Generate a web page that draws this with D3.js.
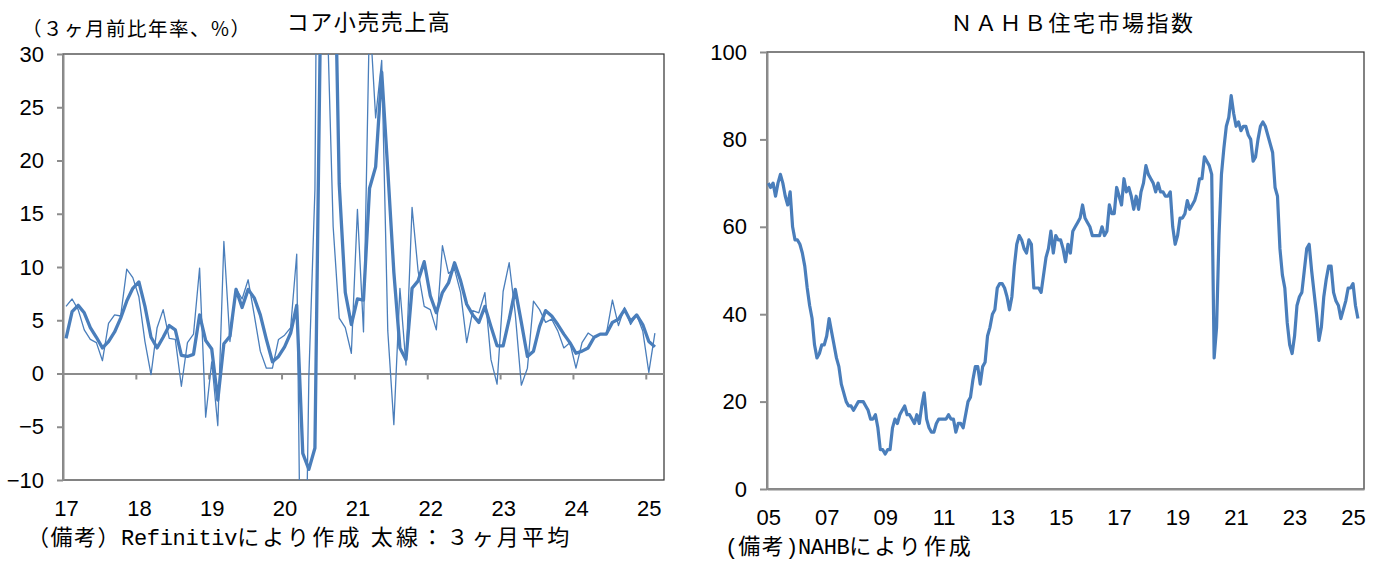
<!DOCTYPE html>
<html>
<head>
<meta charset="utf-8">
<script src="https://cdn.jsdelivr.net/npm/d3@7"></script>
<style>
  body { margin: 0; background: #fff; }
  svg text { font-family: "Noto Sans CJK JP", sans-serif; fill: #000; }
  .num text, text.num { font-family: "Liberation Sans", Arial, sans-serif; }
</style>
</head>
<body>
<svg id="chart" width="1375" height="567"></svg>
<script>
// ---- core retail sales (Jan 2017 - Feb 2025), 3m/3m annualized % ----
const retailYears = ["17", "18", "19", "20", "21", "22", "23", "24", "25"];
const retailMonthly = [
  6.3, 7.0, 6.0, 4.1, 3.2, 2.9, 1.2, 4.7, 5.5, 5.4, 9.8, 9.0,      // 2017
  7.2, 3.0, -0.1, 4.3, 6.0, 3.3, 3.2, -1.2, 2.9, 3.7, 9.9, -4.1,   // 2018
  1.1, -4.9, 12.4, 3.0, 8.0, 7.0, 8.8, 5.5, 2.1, 0.5, 0.5, 3.2,    // 2019
  3.6, 4.3, 11.2, -38, -0.3, 17.3, 94.7, 34.3, 13.8, 5.2, 4.3, 1.9, // 2020
  15.4, 3.9, 34, 24, 29.4, 4.0, -4.8, 8.0, 0.8, 15.6, 9.6, 6.3,    // 2021
  6.0, 4.1, 12.0, 9.4, 9.8, 7.6, 2.9, 5.9, 5.7, 7.6, 1.3, -1.0,    // 2022
  7.7, 10.4, 5.6, -1.1, 0.5, 6.8, 6.0, 4.8, 5.1, 4.0, 2.4, 2.9,    // 2023
  0.5, 2.9, 3.8, 3.4, 3.7, 3.7, 6.9, 4.5, 6.2, 4.6, 5.5, 4.0,      // 2024
  0.1, 3.8                                                         // 2025
];
const retail3mAvg = [
  3.3, 5.8, 6.4, 5.7, 4.3, 3.4, 2.4, 3.0, 3.9, 5.2, 6.8, 8.0,
  8.6, 6.3, 3.4, 2.4, 3.4, 4.5, 4.1, 1.7, 1.6, 1.8, 5.5, 3.1,
  2.3, -2.5, 2.8, 3.5, 7.9, 6.2, 7.9, 7.1, 5.5, 3.2, 1.1, 1.6,
  2.5, 3.8, 6.4, -7.5, -9.0, -7.0, 37.2, 48.8, 47.6, 17.8, 7.6, 4.6,
  7.0, 6.9, 17.4, 19.4, 28.3, 19.1, 9.5, 2.4, 1.3, 8.0, 8.7, 10.5,
  7.3, 5.7, 7.6, 8.5, 10.4, 8.7, 6.5, 5.5, 4.8, 6.3, 4.4, 2.6,
  2.6, 5.1, 7.9, 4.8, 1.6, 2.1, 4.4, 5.9, 5.4, 4.6, 3.7, 2.9,
  1.9, 2.1, 2.4, 3.4, 3.7, 3.7, 4.8, 5.1, 6.0, 4.9, 5.5, 4.6,
  3.0, 2.5
];
const retailTicks = [-10, -5, 0, 5, 10, 15, 20, 25, 30];

// ---- NAHB housing market index (Jan 2005 - Mar 2025) ----
const nahbYears = ["05", "07", "09", "11", "13", "15", "17", "19", "21", "23", "25"];
const nahbIndex = [
  70, 69, 70, 67, 70, 72, 70, 67, 65, 68, 60, 57,   // 2005
  57, 56, 54, 51, 46, 42, 39, 33, 30, 31, 33, 33,   // 2006
  35, 39, 36, 33, 30, 28, 24, 22, 20, 19, 19, 18,   // 2007
  19, 20, 20, 20, 19, 18, 16, 16, 17, 14, 9, 9,     // 2008
  8, 9, 9, 14, 16, 15, 17, 18, 19, 17, 17, 16,      // 2009
  15, 17, 15, 19, 22, 16, 14, 13, 13, 15, 16, 16,   // 2010
  16, 16, 17, 16, 16, 13, 15, 15, 14, 17, 20, 21,   // 2011
  25, 28, 28, 24, 28, 29, 35, 37, 40, 41, 46, 47,   // 2012
  47, 46, 44, 41, 44, 51, 56, 58, 57, 55, 54, 57,   // 2013
  56, 46, 46, 46, 45, 49, 53, 55, 59, 54, 58, 57,   // 2014
  57, 55, 52, 56, 54, 59, 60, 61, 62, 65, 62, 61,   // 2015
  60, 58, 58, 58, 58, 60, 58, 59, 65, 63, 63, 69,   // 2016
  67, 65, 71, 68, 69, 67, 64, 67, 64, 68, 70, 74,   // 2017
  72, 71, 70, 68, 70, 68, 68, 67, 67, 68, 60, 56,   // 2018
  58, 62, 62, 63, 66, 64, 65, 66, 68, 71, 71, 76,   // 2019
  75, 74, 72, 30, 37, 58, 72, 78, 83, 85, 90, 86,   // 2020
  83, 84, 82, 83, 83, 81, 80, 75, 76, 80, 83, 84,   // 2021
  83, 81, 79, 77, 69, 67, 55, 49, 46, 38, 33, 31,   // 2022
  35, 42, 44, 45, 50, 55, 56, 50, 45, 40, 34, 37,   // 2023
  44, 48, 51, 51, 45, 43, 42, 39, 41, 43, 46, 46,   // 2024
  47, 42, 39                                        // 2025
];
const nahbTicks = [0, 20, 40, 60, 80, 100];

const lineColor = "#4a7ebb";
const axisGray = "#8c8c8c";
const frameColor = "#303030";
const mono = "Liberation Mono, DejaVu Sans Mono, monospace";

const svg = d3.select("#chart");

// ================= left chart =================
const L = { left: 63, right: 664, top: 54, bottom: 480 };
const xL = d3.scaleLinear().domain([0, 99]).range([L.left, L.right]);
const yL = d3.scaleLinear().domain([-10, 30]).range([L.bottom, L.top]);

svg.append("clipPath").attr("id", "clipL")
  .append("rect")
  .attr("x", L.left).attr("y", L.top)
  .attr("width", L.right - L.left).attr("height", L.bottom - L.top);

svg.append("rect")
  .attr("x", L.left).attr("y", L.top)
  .attr("width", L.right - L.left).attr("height", L.bottom - L.top)
  .attr("fill", "none").attr("stroke", frameColor).attr("stroke-width", 1.2);

// zero line with year ticks hanging below
const gx0 = svg.append("g")
  .attr("transform", `translate(0,${yL(0)})`)
  .call(d3.axisBottom(xL)
    .tickValues(d3.range(12, 99, 12))
    .tickSize(6).tickSizeOuter(0).tickFormat(""));
gx0.selectAll("path, line").attr("stroke", axisGray).attr("stroke-width", 2);

// year labels at each January
const gxL = svg.append("g").attr("class", "num")
  .attr("transform", `translate(0,${L.bottom})`)
  .call(d3.axisBottom(xL)
    .tickValues(retailYears.map((d, i) => i * 12 + 0.5))
    .tickSize(0).tickPadding(20)
    .tickFormat((d, i) => retailYears[i]));
gxL.select(".domain").remove();
gxL.selectAll("text").attr("font-size", 22).attr("fill", "#000");

const gyL = svg.append("g").attr("class", "num")
  .attr("transform", `translate(${L.left},0)`)
  .call(d3.axisLeft(yL).tickValues(retailTicks).tickSize(6).tickPadding(13)
    .tickSizeOuter(0).tickFormat(d3.format("d")));
gyL.selectAll("path, line").attr("stroke", axisGray).attr("stroke-width", 2);
gyL.selectAll("text").attr("font-size", 22).attr("fill", "#000");

const lineL = d3.line()
  .x((d, i) => xL(i + 0.5))
  .y(d => yL(d));

const plotL = svg.append("g").attr("clip-path", "url(#clipL)");
plotL.append("path").datum(retailMonthly)
  .attr("d", lineL).attr("fill", "none")
  .attr("stroke", lineColor).attr("stroke-width", 1.3)
  .attr("stroke-linejoin", "round");
plotL.append("path").datum(retail3mAvg)
  .attr("d", lineL).attr("fill", "none")
  .attr("stroke", lineColor).attr("stroke-width", 3.3)
  .attr("stroke-linejoin", "round");

svg.append("text")
  .attr("x", 369).attr("y", 30).attr("text-anchor", "middle")
  .attr("font-size", 22).attr("letter-spacing", 1.5)
  .text("コア小売売上高");
svg.append("text")
  .attr("x", 22).attr("y", 36)
  .attr("font-size", 19.5).attr("letter-spacing", 1.5)
  .text("（３ヶ月前比年率、%）");

const noteL = svg.append("text").attr("x", 27).attr("y", 545).attr("font-size", 22);
noteL.append("tspan").attr("letter-spacing", 1.5).text("（備考）");
noteL.append("tspan").attr("font-family", mono).attr("letter-spacing", -0.3).text("Refinitiv");
noteL.append("tspan").attr("letter-spacing", 3.2).text("により作成 太線：３ヶ月平均");

// ================= right chart =================
const R = { left: 767, right: 1364, top: 52, bottom: 489 };
const xR = d3.scaleLinear().domain([0, 245]).range([R.left, R.right]);
const yR = d3.scaleLinear().domain([0, 100]).range([R.bottom, R.top]);

svg.append("rect")
  .attr("x", R.left).attr("y", R.top)
  .attr("width", R.right - R.left).attr("height", R.bottom - R.top)
  .attr("fill", "none").attr("stroke", frameColor).attr("stroke-width", 1.2);

const gxR = svg.append("g").attr("class", "num")
  .attr("transform", `translate(0,${R.bottom})`)
  .call(d3.axisBottom(xR)
    .tickValues(nahbYears.map((d, i) => i * 24 + 0.5))
    .tickSize(0).tickSizeOuter(0).tickPadding(20)
    .tickFormat((d, i) => nahbYears[i]));
gxR.select(".domain").attr("stroke", axisGray).attr("stroke-width", 2);
gxR.selectAll("text").attr("font-size", 22).attr("fill", "#000");

const gyR = svg.append("g").attr("class", "num")
  .attr("transform", `translate(${R.left},0)`)
  .call(d3.axisLeft(yR).tickValues(nahbTicks).tickSize(7).tickPadding(13)
    .tickSizeOuter(0));
gyR.selectAll("path, line").attr("stroke", axisGray).attr("stroke-width", 2);
gyR.selectAll("text").attr("font-size", 22).attr("fill", "#000");

svg.append("path").datum(nahbIndex)
  .attr("d", d3.line().x((d, i) => xR(i + 0.5)).y(d => yR(d)))
  .attr("fill", "none").attr("stroke", lineColor).attr("stroke-width", 3.2)
  .attr("stroke-linejoin", "round");

svg.append("text")
  .attr("x", 1073).attr("y", 31).attr("text-anchor", "middle")
  .attr("font-size", 22).attr("letter-spacing", 2.5)
  .text("ＮＡＨＢ住宅市場指数");

const noteR = svg.append("text").attr("x", 725).attr("y", 554).attr("font-size", 22);
noteR.append("tspan").attr("font-family", mono).text("(");
noteR.append("tspan").attr("letter-spacing", 1.5).text("備考");
noteR.append("tspan").attr("font-family", mono).attr("letter-spacing", -0.4).text(")NAHB");
noteR.append("tspan").attr("letter-spacing", 3).text("により作成");
</script>
</body>
</html>
